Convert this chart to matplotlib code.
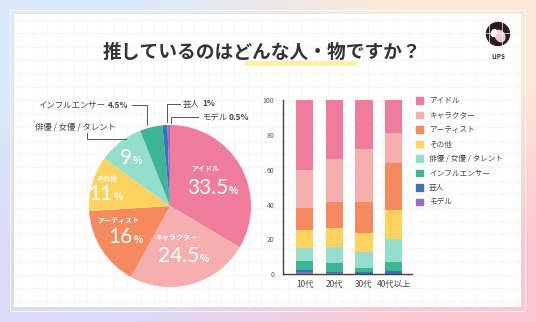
import numpy as np
import matplotlib
matplotlib.use("Agg")
import matplotlib.pyplot as plt
from matplotlib.patches import Rectangle, Circle, Ellipse, Patch

plt.rcParams['font.family'] = ['Noto Sans CJK JP', 'DejaVu Sans']

# data
categories = ['アイドル', 'キャラクター', 'アーティスト', 'その他',
              '俳優 / 女優 / タレント', 'インフルエンサー', '芸人', 'モデル']
colors = ['#F07C9B', '#F6AFAE', '#F68A5E', '#FDD25E',
          '#93DECC', '#3EB596', '#3A72B6', '#9C6BC4']
pie_values = [33.5, 24.5, 16, 11, 9, 4.5, 1, 0.5]

age_groups = ['10代', '20代', '30代', '40代以上']
age_shares = {
    'アイドル':              [40.0, 33.8, 28.3, 18.7],
    'キャラクター':          [22.0, 24.5, 30.0, 17.6],
    'アーティスト':          [12.4, 15.3, 18.0, 26.6],
    'その他':                [10.7, 10.5, 10.7, 16.6],
    '俳優 / 女優 / タレント': [7.5, 9.2, 9.2, 13.2],
    'インフルエンサー':      [5.1, 5.2, 2.7, 5.4],
    '芸人':                  [1.0, 1.0, 1.0, 1.5],
    'モデル':                [1.3, 0.5, 0.1, 0.4],
}

W, H = 536, 322
fig = plt.figure(figsize=(W / 100, H / 100), dpi=100)

# background + card
bg = fig.add_axes([0, 0, 1, 1])
bg.set_xlim(0, W)
bg.set_ylim(H, 0)
bg.axis('off')
grad = np.array([[[0.86, 0.91, 0.98], [0.99, 0.91, 0.85]],
                 [[0.86, 0.86, 0.97], [0.99, 0.78, 0.82]]])
bg.imshow(grad, extent=[0, W, H, 0], interpolation='bilinear', aspect='auto')
bg.add_patch(Rectangle((10, 10), 515, 301, fill=False, ec='white', lw=0.8, alpha=0.8))
bg.add_patch(Rectangle((14, 14), 507, 293, fc='white', ec='none'))
for gx in np.arange(20, 521, 13.4):
    bg.plot([gx, gx], [14, 307], color='#FAF0F2', lw=0.5)
for gy in np.arange(20, 307, 13.4):
    bg.plot([14, 521], [gy, gy], color='#FAF0F2', lw=0.5)

# title
bg.plot([246, 354], [63, 63], color='#FCF0A6', lw=3.5, solid_capstyle='round')
bg.text(262, 52, '推しているのはどんな人・物ですか？', ha='center', va='center',
        fontsize=13.5, fontweight='bold', color='#333333')

# logo
bg.add_patch(Circle((498, 34), 11.5, color='#2B1B20'))
bg.add_patch(Ellipse((500, 36), 9, 12, angle=-30, color='#F4C6CF'))
bg.add_patch(Ellipse((494, 33), 5, 7, angle=20, color='white'))
bg.text(498, 56, 'LIPS', ha='center', va='center', fontsize=4.5,
        fontweight='bold', color='#333333')

# pie
R = 81
cx, cy = 170, 206
pax = fig.add_axes([0, 1 / H, 340 / W, 230 / H])
pax.pie(pie_values, colors=colors, startangle=90, counterclock=False, radius=1,
        wedgeprops=dict(linewidth=0))
pax.set_xlim(-170 / R, 170 / R)
pax.set_ylim(-115 / R, 115 / R)
pax.set_aspect('auto')
pax.axis('off')


def px(x, y):
    return (x - cx) / R, (cy - y) / R


num_font = dict(family=['Lato', 'DejaVu Sans'], color='white')
inner = [
    ('アイドル', (205, 169), '33.5', (228, 194)),
    ('キャラクター', (176, 238), '24.5', (199, 262)),
    ('アーティスト', (118, 221), '16', (133, 243)),
    ('その他', (107, 178), '11', (113, 200)),
    (None, None, '9', (132, 164)),
]
for name, npos, num, bpos in inner:
    if name:
        pax.text(*px(*npos), name, ha='center', va='center', fontsize=5,
                 fontweight='bold', color='white')
    pax.text(*px(*bpos), num, ha='right', va='baseline', fontsize=15, **num_font)
    pax.text(*px(bpos[0] + 0.5, bpos[1]), '%', ha='left', va='baseline',
             fontsize=7, fontweight='bold', color='white')

lab = dict(fontsize=6, color='#444444', va='center')
bold = dict(fontsize=6, color='#444444', va='center', fontweight='bold')
line = dict(color='#555555', lw=0.7, clip_on=False)
# influencer
pax.text(*px(105, 105), 'インフルエンサー', ha='right', **lab)
pax.text(*px(108, 105), '4.5%', ha='left', **bold)
pax.plot(*zip(px(132, 105), px(147, 105), px(147, 125)), **line)
# actor
pax.text(*px(35, 127), '俳優 / 女優 / タレント', ha='left', **lab)
pax.plot(*zip(px(87, 133), px(87, 139), px(126, 139)), **line)
# comedian
pax.plot(*zip(px(180, 104), px(167, 104), px(167, 122)), **line)
pax.text(*px(183, 104), '芸人', ha='left', **lab)
pax.text(*px(202, 104), '1%', ha='left', **bold)
# model
pax.plot(*zip(px(198, 117), px(171, 117), px(171, 123)), **line)
pax.text(*px(202, 117), 'モデル', ha='left', **lab)
pax.text(*px(229, 117), '0.5%', ha='left', **bold)

# stacked bars
bax = fig.add_axes([282.7 / W, (H - 274.3) / H, 129 / W, 174.3 / H])
x = np.arange(len(age_groups))
bottom = np.zeros(len(age_groups))
for cat, col in reversed(list(zip(categories, colors))):
    vals = np.array(age_shares[cat])
    bax.bar(x, vals, bottom=bottom, width=0.59, color=col, linewidth=0)
    bottom += vals
bax.set_xlim(-0.743, 3.61)
bax.set_ylim(0, 100)
bax.set_yticks([0, 20, 40, 60, 80, 100])
bax.set_xticks(x)
bax.set_xticklabels(age_groups)
bax.tick_params(axis='y', length=0, labelsize=5, labelcolor='#555555', pad=6)
bax.tick_params(axis='x', length=0, labelsize=6, labelcolor='#444444', pad=4)
for s in ['top', 'right']:
    bax.spines[s].set_visible(False)
for s in ['left', 'bottom']:
    bax.spines[s].set_color('#444444')
    bax.spines[s].set_linewidth(1.0)
bax.patch.set_alpha(0)

handles = [Patch(color=c, label=l) for l, c in zip(categories, colors)]
fig.legend(handles=handles, loc='upper left', bbox_to_anchor=(416 / W, 1 - 97 / H),
           frameon=False, fontsize=5.5, handlelength=0.95, handleheight=0.95,
           labelspacing=0.85, handletextpad=0.75, borderpad=0, borderaxespad=0,
           labelcolor='#444444')

fig.savefig('out.png', dpi=100)
